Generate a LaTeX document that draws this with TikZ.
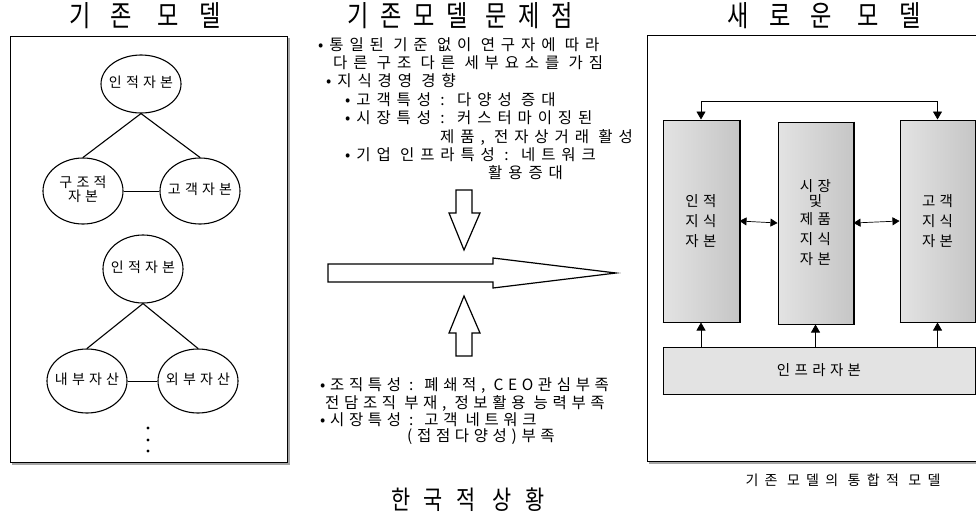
\documentclass[tikz,border=0pt]{standalone}
\usepackage{fontspec}
\setmainfont{Noto Sans CJK KR}
\newfontfamily\kr[LetterSpace=38]{Noto Sans CJK KR}
\newfontfamily\krb[LetterSpace=30]{Noto Sans CJK KR}
\newfontfamily\krell[LetterSpace=30]{Noto Sans CJK KR}
\newfontfamily\krcol[LetterSpace=30]{Noto Sans CJK KR}
\newfontfamily\krcap[LetterSpace=45]{Noto Sans CJK KR}
\newfontfamily\krtitle[LetterSpace=70,FakeStretch=0.8]{Noto Sans CJK KR}
\newfontfamily\krtitleb[LetterSpace=41,FakeStretch=0.8]{Noto Sans CJK KR}
\newfontfamily\krtitlec[LetterSpace=50,FakeStretch=0.8]{Noto Sans CJK KR}
\newcommand{\zbox}[1]{\makebox[0pt]{\begin{tabular}{@{}c@{}}#1\end{tabular}}}
\usetikzlibrary{shapes.geometric,arrows.meta}
\begin{document}
\begin{tikzpicture}[x=1pt,y=-1pt,
  frame/.style={draw=black,line width=1pt},
  shade/.style={draw=gray!70,line width=2.2pt},
  ell/.style={ellipse,draw,line width=1.1pt,minimum width=80pt,inner sep=0pt,font=\krell\fontsize{14}{17}\selectfont},
  conn/.style={line width=1.1pt},
  body/.style={anchor=west,inner sep=0pt,font=\kr\fontsize{15.5}{18}\selectfont},
  bodyb/.style={anchor=west,inner sep=0pt,font=\krb\fontsize{15.5}{18}\selectfont},
  ttl/.style={inner sep=0pt,font=\krtitle\fontsize{29}{32}\selectfont},
  col/.style={rectangle,draw,line width=1pt,left color=gray!22,middle color=white,right color=gray!45,align=center,inner sep=0pt,font=\krcol\fontsize{14.5}{20}\selectfont},
  bigarrow/.style={draw,line width=1.2pt,fill=white,line join=miter}]
\useasboundingbox (0,0) rectangle (976,517);
\fill[white] (0,0) rectangle (976,517);

% ---------- titles ----------
\node[ttl] (title1) at (145,16) {기존 모델};
\node[ttl,font=\krtitleb\fontsize{29}{32}\selectfont] (title2) at (460,16) {기존모델 문제점};
\node[ttl] (title3) at (824,16) {새로운 모델};

% ---------- left box ----------
\draw[shade] (289,38) -- (289,464) -- (12,464);
\draw[frame] (10,36) rectangle (287,462);

\node[ell,minimum height=58pt] (h1) at (141,84) {\zbox{인적자본}};
\node[ell,minimum height=66pt] (s1) at (83,191) {\zbox{구조적\\[-3pt]자본}};
\node[ell,minimum height=66pt] (k1) at (200,191) {\zbox{고객자본}};
\draw[conn] (h1.south) -- (s1.north);
\draw[conn] (h1.south) -- (k1.north);
\draw[line width=0.8pt] (s1.east) -- (k1.west);

\node[ell,minimum height=68pt] (h2) at (143,269) {\zbox{인적자본}};
\node[ell,minimum height=64pt] (i2) at (87,381) {\zbox{내부자산}};
\node[ell,minimum height=64pt] (e2) at (198,381) {\zbox{외부자산}};
\draw[conn] (h2.south) -- (i2.north);
\draw[conn] (h2.south) -- (e2.north);
\draw[line width=0.8pt] (i2.east) -- (e2.west);

\fill (148,428) circle (1.6);
\fill (148,440) circle (1.6);
\fill (148,451) circle (1.6);

% ---------- middle text ----------
\node[body] (t1) at (318,45) {•통일된 기준 없이 연구자에 따라};
\node[body] (t2) at (333,63) {다른 구조 다른 세부요소를 가짐};
\node[body] (t3) at (326,81) {•지식경영 경향};
\node[body] (t4) at (345,100) {•고객특성 : 다양성 증대};
\node[body] (t5) at (345,118) {•시장특성 : 커스터마이징된};
\node[body] (t6) at (440,137) {제품, 전자상거래 활성};
\node[body] (t7) at (345,155) {•기업 인프라특성 : 네트워크};
\node[body] (t8) at (488,173) {활용증대};

\node[bodyb] (b1) at (320,386) {•조직특성 : 폐쇄적, CEO관심부족};
\node[bodyb] (b2) at (325,403) {전담조직 부재, 정보활용 능력부족};
\node[bodyb] (b3) at (320,420) {•시장특성 : 고객 네트워크};
\node[bodyb] (b4) at (407,437) {(접점다양성)부족};

% ---------- arrows ----------
\draw[bigarrow] (456,190) -- (472,190) -- (472,213) -- (480,213) -- (464,250) -- (449,213) -- (456,213) -- cycle;
\draw[bigarrow] (456,356) -- (472,356) -- (472,333) -- (480,333) -- (464,296) -- (449,333) -- (456,333) -- cycle;
\draw[bigarrow] (328,264) -- (493,264) -- (493,258) -- (616,273) -- (493,288) -- (493,282) -- (328,282) -- cycle;

\node[ttl,font=\krtitlec\fontsize{26}{30}\selectfont] (korea) at (468,500) {한국적 상황};

% ---------- right box ----------
\draw[shade] (649,463) -- (980,463);
\draw[frame] (647,35) -- (980,35) (647,35) -- (647,461) -- (980,461);

\node[col,minimum width=76pt,minimum height=202pt] (c1) at (701,221) {인적\\지식\\자본};
\node[col,minimum width=75pt,minimum height=202pt] (c2) at (815.5,223) {시장\\[-5pt]및\\[-2pt]제품\\지식\\자본};
\node[col,minimum width=75pt,minimum height=202pt] (c3) at (937.5,221) {고객\\지식\\자본};
\foreach \c in {c1,c2,c3}{
  \draw[line width=2pt] (\c.north east) -- (\c.south east);
  \draw[line width=1.8pt] (\c.south west) -- (\c.south east);
}
\node[rectangle,draw,line width=1pt,top color=gray!22,middle color=white,bottom color=gray!22,minimum width=312pt,minimum height=47pt,inner sep=0pt,font=\krcol\fontsize{14.5}{16}\selectfont] (infra) at (819,370.5) {인프라자본};
\draw[line width=1.8pt] (infra.south west) -- (infra.south east);

\draw[{Triangle[length=7pt,width=8pt]}-{Triangle[length=7pt,width=8pt]},line width=0.7pt] (c1.east) -- (c2.west);
\draw[{Triangle[length=7pt,width=8pt]}-{Triangle[length=7pt,width=8pt]},line width=0.7pt] (c2.east) -- (c3.west);

\foreach \c in {c1,c2,c3}{
  \draw[-{Triangle[length=8pt,width=9pt]},line width=0.7pt] (infra.north -| \c.south) -- (\c.south);
}
\coordinate (topline) at (820,101);
\draw[{Triangle[length=8pt,width=9pt]}-{Triangle[length=8pt,width=9pt]},line width=0.8pt] (c1.north) -- (c1.north |- topline) -- (c3.north |- topline) -- (c3.north);

\node[inner sep=0pt,font=\krcap\fontsize{14}{16}\selectfont] (cap) at (843,480) {기존 모델의 통합적 모델};
\end{tikzpicture}
\end{document}
